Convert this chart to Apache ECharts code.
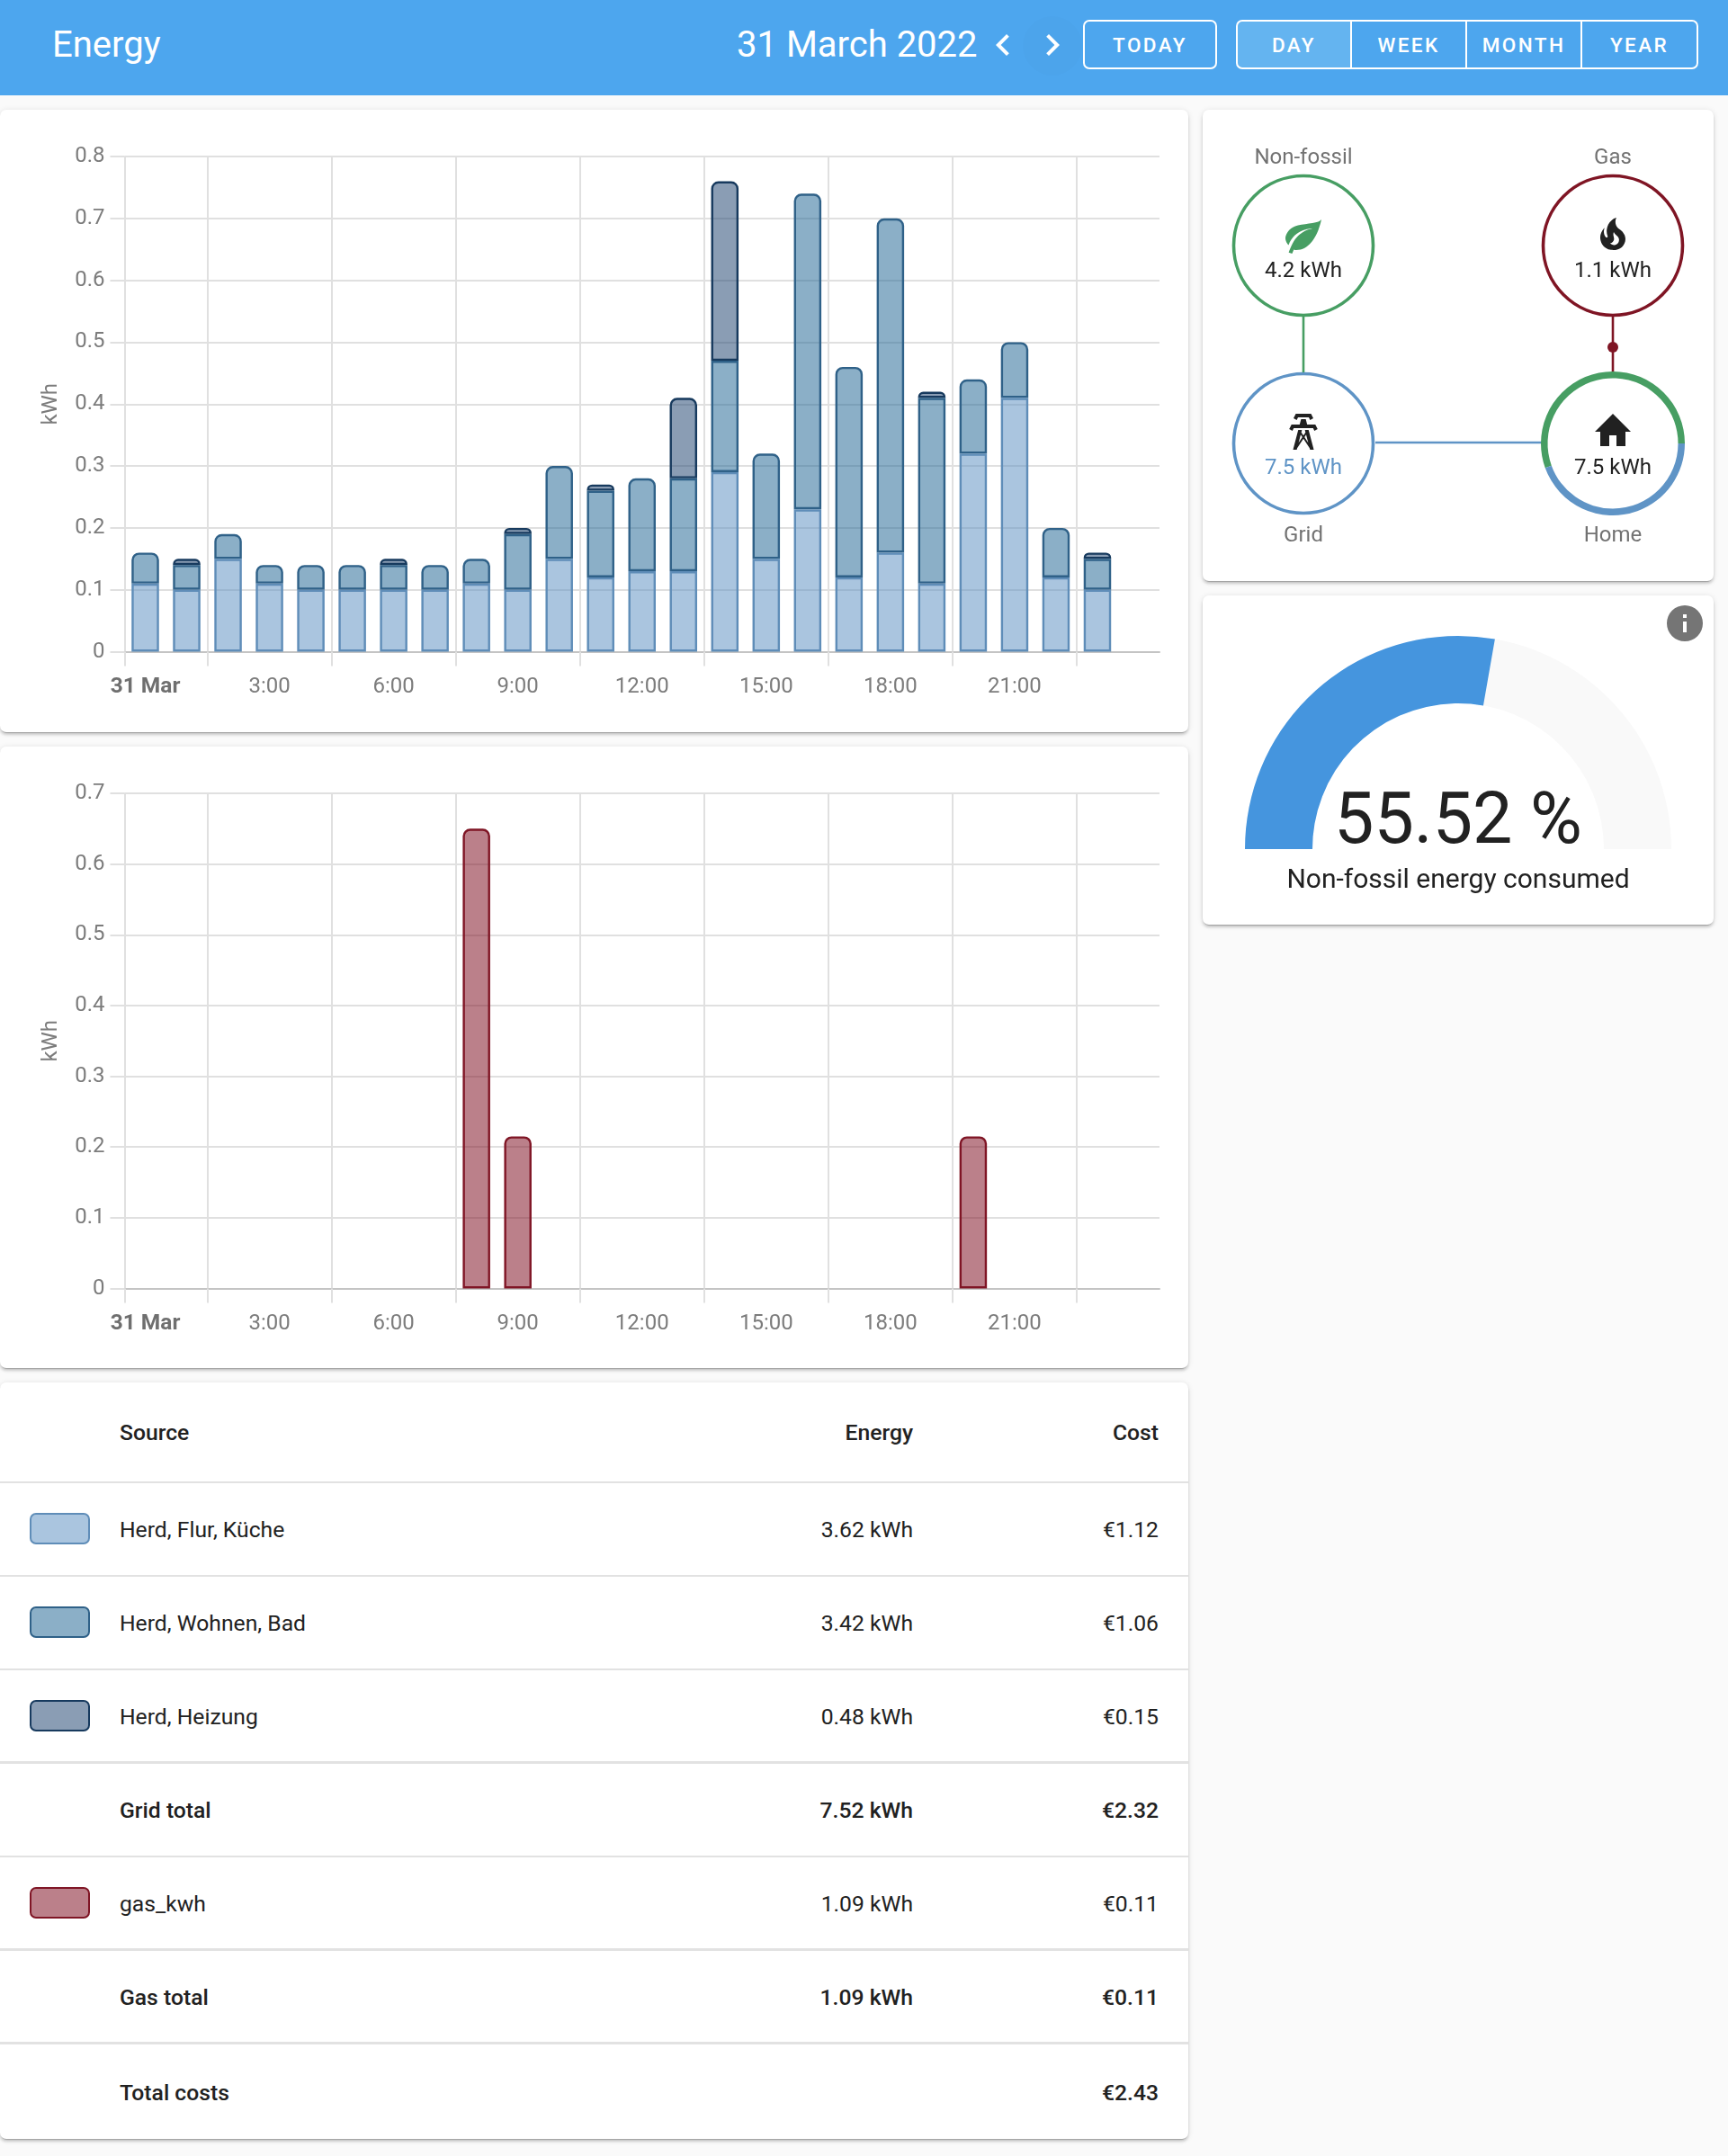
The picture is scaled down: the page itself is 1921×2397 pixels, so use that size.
<!DOCTYPE html>
<html><head><meta charset="utf-8">
<script src="https://cdn.jsdelivr.net/npm/echarts@6/dist/echarts.min.js"></script>
<style>
html,body{margin:0;padding:0;background:#fafafa;font-family:Roboto,sans-serif;color:#212121}
#page{position:relative;width:1921px;height:2397px;overflow:hidden}
.abs{position:absolute}
.card{position:absolute;background:#fff;border-radius:7px;box-shadow:0 3px 3px rgba(0,0,0,.14),0 1px 6px rgba(0,0,0,.12),0 3px 1px -2px rgba(0,0,0,.2)}
#bar{left:0;top:0;width:1921px;height:106px;background:#4da6ee;color:#fff}
.btn{position:absolute;top:22px;height:55px;box-sizing:border-box;border:2px solid #fff;color:#fff;font-size:22.5px;font-weight:500;letter-spacing:2.4px;display:flex;align-items:center;justify-content:center}
.row{position:absolute;left:0;width:1321px;box-sizing:border-box;font-size:24.7px}
.row span{position:absolute;top:50%;transform:translateY(-50%);white-space:nowrap}
.sw{position:absolute;left:33px;width:67px;height:35px;top:50%;margin-top:-18px;box-sizing:border-box;border-radius:7px;border-style:solid;border-width:2.5px}
#chart{position:absolute;left:0;top:0;width:1921px;height:2397px}
</style></head><body>
<div id="page">
  <div id="bar" class="abs">
    <div class="abs" style="left:58px;top:26px;font-size:40px;line-height:48px">Energy</div>
    <div class="abs" style="left:819px;top:26px;font-size:40px;line-height:48px">31 March 2022</div>
    <div class="abs" style="left:1137px;top:18px;width:66px;height:66px;border-radius:50%;background:rgba(0,0,0,.012)"></div>
    <svg class="abs" style="left:1091px;top:26px" width="48" height="48" viewBox="0 0 24 24"><path fill="#fff" d="M15.41,16.58L10.83,12L15.41,7.41L14,6L8,12L14,18L15.41,16.58Z"/></svg>
    <svg class="abs" style="left:1146px;top:26px" width="48" height="48" viewBox="0 0 24 24"><path fill="#fff" d="M8.59,16.58L13.17,12L8.59,7.41L10,6L16,12L10,18L8.59,16.58Z"/></svg>
    <div class="btn" style="left:1204px;width:149px;border-radius:7px">TODAY</div>
    <div class="btn" style="left:1374px;width:129px;border-radius:7px 0 0 7px;background:#64b4f0">DAY</div>
    <div class="btn" style="left:1501px;width:130px;border-radius:0">WEEK</div>
    <div class="btn" style="left:1629px;width:130px;border-radius:0">MONTH</div>
    <div class="btn" style="left:1757px;width:131px;border-radius:0 7px 7px 0">YEAR</div>
  </div>
  <div class="card" style="left:0;top:122px;width:1321px;height:692px"></div>
  <div class="card" style="left:0;top:830px;width:1321px;height:691px"></div>
  <div class="card" style="left:1337px;top:122px;width:568px;height:524px"></div>
  <div class="card" style="left:1337px;top:662px;width:568px;height:366px"></div>
  <div class="card" id="table" style="left:0;top:1537px;width:1321px;height:841px"></div>
  <svg class="abs" style="left:1425px;top:238px" width="48" height="48" viewBox="0 0 24 24"><path fill="#479e63" d="M17,8C8,10 5.9,16.17 3.82,21.34L5.71,22L6.66,19.7C7.14,19.87 7.64,20 8,20C19,20 22,3 22,3C21,5 14,5.25 9,6.25C4,7.25 2,11.5 2,13.5C2,15.5 3.75,17.25 3.75,17.25C7,8 17,8 17,8Z"/></svg>
  <svg class="abs" style="left:1769px;top:236px" width="48" height="48" viewBox="0 0 24 24"><path fill="#212121" d="M17.66 11.2C17.43 10.9 17.15 10.64 16.89 10.38C16.22 9.78 15.46 9.35 14.82 8.72C13.33 7.26 13 4.85 13.95 3C13 3.23 12.17 3.75 11.46 4.32C8.87 6.4 7.85 10.07 9.07 13.22C9.11 13.32 9.15 13.42 9.15 13.55C9.15 13.77 9 13.97 8.8 14.05C8.57 14.15 8.33 14.09 8.14 13.93C8.08 13.88 8.04 13.83 8 13.76C6.87 12.33 6.69 10.28 7.45 8.64C5.78 10 4.87 12.3 5 14.47C5.06 14.97 5.12 15.47 5.29 15.97C5.43 16.57 5.7 17.17 6 17.7C7.08 19.43 8.95 20.67 10.96 20.92C13.1 21.19 15.39 20.8 17.03 19.32C18.86 17.66 19.5 15 18.56 12.72L18.43 12.46C18.22 12 17.66 11.2 17.66 11.2M14.5 17.5C14.22 17.74 13.76 18 13.4 18.1C12.28 18.5 11.16 17.94 10.5 17.28C11.69 17 12.4 16.12 12.61 15.23C12.78 14.43 12.46 13.77 12.33 13C12.21 12.26 12.23 11.63 12.5 10.94C12.69 11.32 12.89 11.7 13.13 12C13.9 13 15.11 13.44 15.37 14.8C15.41 14.94 15.43 15.08 15.43 15.23C15.46 16.05 15.1 16.95 14.5 17.5H14.5Z"/></svg>
  <svg class="abs" style="left:1425px;top:456px" width="48" height="48" viewBox="0 0 24 24"><path fill="#212121" d="M8.28,5.45L6.5,4.55L7.76,2H16.23L17.5,4.55L15.72,5.44L15,4H9L8.28,5.45M18.62,8H14.09L13.3,5H10.7L9.91,8H5.38L4.1,10.55L5.89,11.44L6.62,10H17.38L18.1,11.45L19.89,10.56L18.62,8M17.77,22H15.7L15.46,21.1L12,15.9L8.53,21.1L8.3,22H6.23L9.12,11H11.19L10.83,12.35L12,14.1L13.16,12.35L12.81,11H14.88L17.77,22M11.4,15L10.5,13.65L9.32,18.13L11.4,15M14.68,18.13L13.5,13.65L12.6,15L14.68,18.13Z"/></svg>
  <svg class="abs" style="left:1769px;top:456px" width="48" height="48" viewBox="0 0 24 24"><path fill="#212121" d="M10,20V14H14V20H19V12H22L12,2L2,12H5V20H10Z"/></svg>
  <svg class="abs" style="left:1849px;top:669px" width="48" height="48" viewBox="0 0 24 24"><path fill="#757575" d="M13,9H11V7H13M13,17H11V11H13M12,2A10,10 0 0,0 2,12A10,10 0 0,0 12,22A10,10 0 0,0 22,12A10,10 0 0,0 12,2Z"/></svg>
  <div id="chart"></div>
</div>
<script>
// ---- data ----
const hourLabels = ['31 Mar','1:00','2:00','3:00','4:00','5:00','6:00','7:00','8:00','9:00','10:00','11:00','12:00','13:00','14:00','15:00','16:00','17:00','18:00','19:00','20:00','21:00','22:00','23:00',''];
const herdFlur    = [.11,.10,.15,.11,.10,.10,.10,.10,.11,.10,.15,.12,.13,.13,.29,.15,.23,.12,.16,.11,.32,.41,.12,.10];
const herdWohnen  = [.05,.04,.04,.03,.04,.04,.04,.04,.04,.09,.15,.14,.15,.15,.18,.17,.51,.34,.54,.30,.12,.09,.08,.05];
const herdHeizung = [0,.01,0,0,0,0,.01,0,0,.01,0,.01,0,.13,.29,0,0,0,0,.01,0,0,0,.01];
const gasKwh      = [0,0,0,0,0,0,0,0,.65,.215,0,0,0,0,0,0,0,0,0,0,.215,0,0,0];
const gridHours   = [-0.5,1.5,4.5,7.5,10.5,13.5,16.5,19.5,22.5];
const nonFossilPercent = 55.52;
const homeShares  = [55.52,44.48];
const tableHeader = ['Source','Energy','Cost'];
const tableRows = [
 {name:'Herd, Flur, Küche',energy:'3.62 kWh',cost:'€1.12',fill:'#aac5df',line:'#5f8db8'},
 {name:'Herd, Wohnen, Bad',energy:'3.42 kWh',cost:'€1.06',fill:'#8bafc7',line:'#2f6188'},
 {name:'Herd, Heizung',energy:'0.48 kWh',cost:'€0.15',fill:'#8a9db4',line:'#173a5e'},
 {name:'Grid total',energy:'7.52 kWh',cost:'€2.32',bold:1},
 {name:'gas_kwh',energy:'1.09 kWh',cost:'€0.11',fill:'#bb808a',line:'#7f1525'},
 {name:'Gas total',energy:'1.09 kWh',cost:'€0.11',bold:1},
 {name:'Total costs',energy:'',cost:'€2.43',bold:1}
];
// ---- table ----
const rowTops=[1537,1649,1753,1857,1961,2065,2169,2273,2378];
const t=document.getElementById('table');
function addRow(i,cells,bold,sw,heavy){
  const r=document.createElement('div');r.className='row';
  r.style.top=(rowTops[i]-1537)+'px';r.style.height=(rowTops[i+1]-rowTops[i])+'px';
  if(i<7) r.style.borderBottom=(heavy?3.5:2)+'px solid #e2e2e2';
  const w=bold?'font-weight:500;':'';
  r.innerHTML=(sw?`<div class="sw" style="background:${sw.fill};border-color:${sw.line}"></div>`:'')+
   `<span style="left:133px;${w}">${cells[0]}</span><span style="right:306px;${w}">${cells[1]}</span><span style="right:33px;${w}">${cells[2]}</span>`;
  t.appendChild(r);
}
addRow(0,tableHeader,true);
tableRows.forEach((d,i)=>addRow(i+1,[d.name,d.energy,d.cost],d.bold,d.fill?d:null,i===2||i===4||i===5));

// ---- chart ----
const AX='#7c7c7c', GRID='#e0e0e0', FF='Roboto';
function xAxes(gi){
  return [{
    type:'category',gridIndex:gi,data:hourLabels,position:'bottom',
    axisLine:{show:true,lineStyle:{color:'#c4c4c4',width:2}},axisTick:{show:false},splitLine:{show:false},
    axisLabel:{interval:(i)=>i%3===0&&i<24,margin:27,color:AX,fontSize:24,fontFamily:FF,
      formatter:v=>v==='31 Mar'?'{b|31 Mar}':v,rich:{b:{fontWeight:'bold',fontSize:24.5,fontFamily:'Roboto',color:'#6f6f6f'}}}
  },{
    type:'value',gridIndex:gi,min:-0.5,max:24.5,position:'bottom',
    axisLine:{show:false},axisLabel:{show:false},
    axisTick:{show:true,length:16,customValues:gridHours,lineStyle:{color:GRID,width:2}},
    splitLine:{show:true,customValues:gridHours,lineStyle:{color:GRID,width:2}}
  }];
}
function yAxis(gi,max){
  return {type:'value',gridIndex:gi,min:0,max:max,interval:.1,name:'kWh',nameLocation:'middle',nameGap:70,
    nameTextStyle:{color:AX,fontSize:24,fontFamily:FF},
    axisLine:{show:true,onZero:false,lineStyle:{color:GRID,width:1.5}},
    axisTick:{show:true,length:16,lineStyle:{color:GRID,width:2}},
    splitLine:{show:true,lineStyle:{color:GRID,width:2}},
    axisLabel:{margin:22,padding:[10,0,0,0],color:AX,fontSize:24,fontFamily:FF,formatter:v=>v===0?'0':v.toFixed(1)}};
}
const R=[7,7,0,0];
function stack(name,vals,fill,line,axisIdx,isTop,z){
  return {type:'bar',name,stack:'s'+axisIdx,xAxisIndex:axisIdx,yAxisIndex:axisIdx===0?0:1,barWidth:30.5,silent:true,z:z,
    itemStyle:{color:fill,borderColor:line,borderWidth:2.4},
    data:vals.map((v,i)=>v?{value:v,itemStyle:{borderRadius:isTop(i)?R:0}}:null)};
}
const flowText=(t,x,y,c,s)=>({type:'text',x:x,y:y,silent:true,style:{text:t,fill:c,font:`${s||24}px Roboto`,align:'center',verticalAlign:'middle'}});
const ring=(x,y,c)=>({type:'circle',silent:true,shape:{cx:x,cy:y,r:77.5},style:{fill:'none',stroke:c,lineWidth:3.6}});
const ln=(a,b,c,d,col)=>({type:'line',silent:true,shape:{x1:a,y1:b,x2:c,y2:d},style:{stroke:col,lineWidth:2.6}});
const GREEN='#479e63',RED='#7f1524',BLUE='#5f94c6';

const chart=echarts.init(document.getElementById('chart'),null,{width:1921,height:2397});
chart.setOption({
  animation:false,backgroundColor:'transparent',
  grid:[{left:138.5,top:174,width:1150.5,height:550.5},{left:138.5,top:882,width:1150.5,height:550.5}],
  xAxis:[...xAxes(0),...xAxes(1)],
  yAxis:[yAxis(0,.8),yAxis(1,.7)],
  series:[
    stack('Herd, Flur, Küche',herdFlur,'rgba(85,139,191,.5)','#5f8db8',0,()=>false,4),
    stack('Herd, Wohnen, Bad',herdWohnen,'rgba(23,95,143,.5)','#2f6188',0,i=>!herdHeizung[i],3),
    stack('Herd, Heizung',herdHeizung,'rgba(21,59,105,.5)','#173a5e',0,()=>true,2),
    stack('gas_kwh',gasKwh,'rgba(119,1,21,.5)','#7f1525',2,()=>true,2),
    {type:'pie',silent:true,center:[1793,493],radius:[72.5,80],startAngle:0,clockwise:false,label:{show:false},labelLine:{show:false},
     data:[{value:homeShares[0],itemStyle:{color:GREEN}},{value:homeShares[1],itemStyle:{color:BLUE}}]},
    {type:'gauge',silent:true,center:[1621,944],radius:237,startAngle:180,endAngle:0,min:0,max:100,
     pointer:{show:false},axisTick:{show:false},splitLine:{show:false},axisLabel:{show:false},anchor:{show:false},
     axisLine:{roundCap:false,lineStyle:{width:75,color:[[1,'#f9f9f9']]}},
     progress:{show:true,width:75,roundCap:false,itemStyle:{color:'#4595de'}},
     title:{offsetCenter:[0,35],fontSize:30,color:'#212121',fontFamily:FF},
     detail:{offsetCenter:[0,-27],fontSize:79,color:'#212121',fontFamily:FF,fontWeight:400,formatter:'{value} %'},
     data:[{value:nonFossilPercent,name:'Non-fossil energy consumed'}]}
  ],
  graphic:{elements:[
    ring(1449,273,GREEN),ring(1793,273,RED),ring(1449,493,BLUE),
    ln(1449,352,1449,414,GREEN),ln(1793,352,1793,414,RED),ln(1529,492,1714,492,BLUE),
    {type:'circle',silent:true,shape:{cx:1793,cy:386,r:6},style:{fill:RED}},
    flowText('Non-fossil',1449,176,'#727272'),flowText('Gas',1793,176,'#727272'),
    flowText('Grid',1449,596,'#727272'),flowText('Home',1793,596,'#727272'),
    flowText('4.2 kWh',1449,302,'#212121'),flowText('1.1 kWh',1793,302,'#212121'),
    flowText('7.5 kWh',1449,521,BLUE),flowText('7.5 kWh',1793,521,'#212121')
  ]}
});
</script>
</body></html>
